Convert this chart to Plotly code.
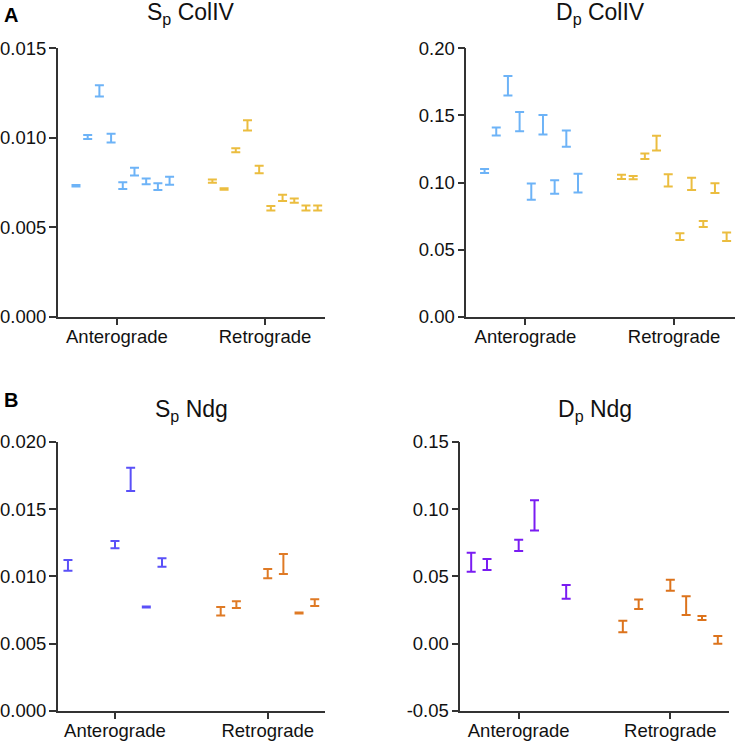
import plotly.graph_objects as go

W, H = 736, 743

categories = ["Anterograde", "Retrograde"]

# Panel A left: Sp ColIV
sp_col_ante = [None, 0.00732, 0.01004, 0.01262, 0.00998, 0.00732, 0.00811, 0.00756, 0.00727, 0.00760]
sp_col_ante_err = [None, 0.00004, 0.00011, 0.00031, 0.00025, 0.00019, 0.00022, 0.00016, 0.00019, 0.00022]
sp_col_retro = [0.00758, 0.00714, 0.00930, 0.01069, 0.00823, 0.00606, 0.00664, 0.00649, 0.00608, 0.00608]
sp_col_retro_err = [0.00009, 0.00004, 0.00011, 0.00029, 0.00021, 0.00013, 0.00018, 0.00012, 0.00014, 0.00014]

# Panel A right: Dp ColIV
dp_col_ante = [None, 0.1086, 0.1380, 0.1721, 0.1453, 0.0932, 0.1430, 0.0966, 0.1327, 0.0996]
dp_col_ante_err = [None, 0.0015, 0.0029, 0.0073, 0.0072, 0.0060, 0.0073, 0.0050, 0.0060, 0.0070]
dp_col_retro = [0.1042, 0.1036, 0.1196, 0.1294, 0.1016, 0.0596, 0.0990, 0.0691, 0.0958, 0.0596]
dp_col_retro_err = [0.0016, 0.0012, 0.0021, 0.0055, 0.0045, 0.0025, 0.0046, 0.0022, 0.0036, 0.0032]

# Panel B left: Sp Ndg
sp_ndg_ante = [0.01082, None, None, 0.01236, 0.01722, 0.00772, 0.01103]
sp_ndg_ante_err = [0.00040, None, None, 0.00027, 0.00087, 0.00004, 0.00031]
sp_ndg_retro = [0.00740, 0.00789, None, 0.01020, 0.01092, 0.00727, 0.00804]
sp_ndg_retro_err = [0.00032, 0.00025, None, 0.00035, 0.00074, 0.00004, 0.00025]

# Panel B right: Dp Ndg
dp_ndg_ante = [0.0605, 0.0588, None, 0.0731, 0.0954, None, 0.0385]
dp_ndg_ante_err = [0.0071, 0.0041, None, 0.0042, 0.0112, None, 0.0051]
dp_ndg_retro = [0.0127, 0.0292, None, 0.0434, 0.0282, 0.0190, 0.0027]
dp_ndg_retro_err = [0.0043, 0.0035, None, 0.0041, 0.0069, 0.0015, 0.0029]

sp_col_ticks = [0.000, 0.005, 0.010, 0.015]
dp_col_ticks = [0.00, 0.05, 0.10, 0.15, 0.20]
sp_ndg_ticks = [0.000, 0.005, 0.010, 0.015, 0.020]
dp_ndg_ticks = [-0.05, 0.00, 0.05, 0.10, 0.15]

COL_BLUE = "#6db3f7"
COL_YELLOW = "#ebbd3f"
NDG_BLUE = "#5a50f8"
NDG_ORANGE = "#df7a25"
NDG_PURPLE = "#7a1cf2"
NDG_ORANGE2 = "#dc731c"

FONT = "Arial, Liberation Sans, Helvetica, sans-serif"
AX = "#333333"

def px_dom_x(a, b):
    return [a / W, b / W]

def px_dom_y(top, bottom):
    return [1 - bottom / H, 1 - top / H]

panels = [
    dict(title="S<sub>p</sub> ColIV", ante=sp_col_ante, ante_err=sp_col_ante_err,
         retro=sp_col_retro, retro_err=sp_col_retro_err, c1=COL_BLUE, c2=COL_YELLOW,
         ticks=sp_col_ticks, fmt="{:.3f}", yr=[0, 0.015], spacing=0.079, xr=[-0.40, 1.405],
         dx=px_dom_x(57.7, 325), dy=px_dom_y(48.3, 316.7), ty=14),
    dict(title="D<sub>p</sub> ColIV", ante=dp_col_ante, ante_err=dp_col_ante_err,
         retro=dp_col_retro, retro_err=dp_col_retro_err, c1=COL_BLUE, c2=COL_YELLOW,
         ticks=dp_col_ticks, fmt="{:.2f}", yr=[0, 0.20], spacing=0.0786, xr=[-0.398, 1.41],
         dx=px_dom_x(466.3, 735), dy=px_dom_y(48.3, 316.7), ty=14),
    dict(title="S<sub>p</sub> Ndg", ante=sp_ndg_ante, ante_err=sp_ndg_ante_err,
         retro=sp_ndg_retro, retro_err=sp_ndg_retro_err, c1=NDG_BLUE, c2=NDG_ORANGE,
         ticks=sp_ndg_ticks, fmt="{:.3f}", yr=[0, 0.020], spacing=0.1026, xr=[-0.375, 1.375],
         dx=px_dom_x(57.7, 325), dy=px_dom_y(442, 710.7), ty=410),
    dict(title="D<sub>p</sub> Ndg", ante=dp_ndg_ante, ante_err=dp_ndg_ante_err,
         retro=dp_ndg_retro, retro_err=dp_ndg_retro_err, c1=NDG_PURPLE, c2=NDG_ORANGE2,
         ticks=dp_ndg_ticks, fmt="{:.2f}", yr=[-0.05, 0.15], spacing=0.1044, xr=[-0.385, 1.385],
         dx=px_dom_x(460.3, 728.7), dy=px_dom_y(442, 710.7), ty=410),
]

fig = go.Figure()
annotations = []
layout = {}

for k, p in enumerate(panels, start=1):
    xa = "x" if k == 1 else f"x{k}"
    ya = "y" if k == 1 else f"y{k}"
    for gi, (vals, errs, col) in enumerate([(p["ante"], p["ante_err"], p["c1"]),
                                             (p["retro"], p["retro_err"], p["c2"])]):
        n = len(vals)
        xs = [gi + (i - (n - 1) / 2) * p["spacing"] for i in range(n)]
        fig.add_trace(go.Scatter(
            x=xs, y=vals, mode="markers", xaxis=xa, yaxis=ya,
            marker=dict(size=1, color="rgba(0,0,0,0)"),
            error_y=dict(type="data", array=errs, visible=True, color=col,
                         thickness=2, width=4.5),
            showlegend=False, hoverinfo="skip",
        ))
    xkey = "xaxis" if k == 1 else f"xaxis{k}"
    ykey = "yaxis" if k == 1 else f"yaxis{k}"
    layout[xkey] = dict(domain=p["dx"], anchor=ya, range=p["xr"], tickvals=[0, 1],
                        ticktext=categories, showline=True, linecolor=AX, linewidth=1.5,
                        ticks="outside", ticklen=7, tickwidth=1.5, tickcolor=AX,
                        showgrid=False, zeroline=False, automargin=False,
                        ticklabelstandoff=-5,
                        tickfont=dict(family=FONT, size=18.5, color="#111"))
    layout[ykey] = dict(domain=p["dy"], anchor=xa, range=p["yr"], tickvals=p["ticks"],
                        ticktext=[p["fmt"].format(t) for t in p["ticks"]],
                        showline=True, linecolor=AX, linewidth=1.5,
                        ticks="outside", ticklen=7, tickwidth=1.5, tickcolor=AX,
                        showgrid=False, zeroline=False, automargin=False,
                        ticklabelstandoff=-1,
                        tickfont=dict(family=FONT, size=18.5, color="#111"))
    annotations.append(dict(text=p["title"], xref="paper", yref="paper",
                            x=(p["dx"][0] + p["dx"][1]) / 2, y=1 - p["ty"] / H,
                            xanchor="center", yanchor="middle", showarrow=False,
                            font=dict(family=FONT, size=23, color="#111")))

annotations.append(dict(text="<b>A</b>", xref="paper", yref="paper", x=2 / W, y=1 - 15 / H,
                        xanchor="left", yanchor="middle", showarrow=False,
                        font=dict(family=FONT, size=20, color="#000")))
annotations.append(dict(text="<b>B</b>", xref="paper", yref="paper", x=2 / W, y=1 - 400 / H,
                        xanchor="left", yanchor="middle", showarrow=False,
                        font=dict(family=FONT, size=20, color="#000")))

fig.update_layout(width=W, height=H,
                  margin=dict(l=0, r=0, t=0, b=0, pad=0, autoexpand=False),
                  paper_bgcolor="white", plot_bgcolor="white",
                  annotations=annotations, **layout)

fig.write_html("out.html", config={"displayModeBar": False},
               post_script="document.body.style.margin='0';"
                           "document.documentElement.style.overflow='hidden';")
